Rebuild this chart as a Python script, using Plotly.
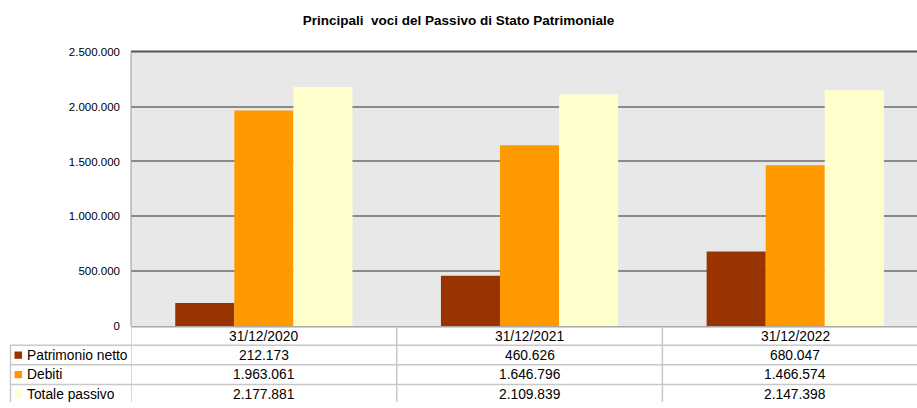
import plotly.graph_objects as go

W, H = 917, 408

categories = ["31/12/2020", "31/12/2021", "31/12/2022"]
series_names = ["Patrimonio netto", "Debiti", "Totale passivo"]
patrimonio_netto = [212173, 460626, 680047]
debiti = [1963061, 1646796, 1466574]
totale_passivo = [2177881, 2109839, 2147398]
series_values = [patrimonio_netto, debiti, totale_passivo]
colors = ["#993300", "#FF9900", "#FFFFCC"]
y_ticks = [0, 500000, 1000000, 1500000, 2000000, 2500000]
title = "Principali  voci del Passivo di Stato Patrimoniale"

FONT = "Liberation Sans, Arial, sans-serif"
TABLE_FS = 13.8

def px(x):
    return x / W

def py(y):
    return 1 - y / H

def it(n):
    return f"{n:,}".replace(",", ".")

fig = go.Figure()
xs = list(range(len(categories)))
for name, vals, c in zip(series_names, series_values, colors):
    fig.add_trace(go.Bar(x=xs, y=vals, name=name, marker=dict(color=c, line=dict(width=0))))

x_left, x_zero_y, x_top_y = 131, 330, 47
cat_w = 265.7
visible_units = (W - x_left) / cat_w

fig.update_layout(
    width=W, height=H, autosize=False,
    margin=dict(l=0, r=0, t=0, b=0),
    paper_bgcolor="white",
    plot_bgcolor="#E8E8E8",
    barmode="group",
    bargap=0.333,
    bargroupgap=0,
    showlegend=False,
    separators=",.",
    font=dict(family=FONT, size=12, color="#000"),
    title=dict(text="<b>" + title + "</b>", x=0.5, xanchor="center", y=py(20), yanchor="middle",
               font=dict(family=FONT, size=13.5, color="#000")),
    xaxis=dict(domain=[px(x_left), 1], range=[-0.5, -0.5 + visible_units],
               showticklabels=False, showgrid=False, zeroline=False, showline=False, fixedrange=True),
    yaxis=dict(domain=[py(x_zero_y), py(x_top_y)], range=[0, 2500000],
               tickvals=y_ticks, ticktext=[it(v) for v in y_ticks],
               tickfont=dict(family=FONT, size=11.5, color="#000"),
               showgrid=True, gridcolor="#8A8A8A", gridwidth=2,
               zeroline=False, showline=False, ticks="", ticklabelstandoff=10),
)

shapes = []
shapes.append(dict(type="line", xref="paper", yref="paper", x0=px(x_left), x1=1, y0=py(x_top_y), y1=py(x_top_y),
                   line=dict(color="#555555", width=2)))
shapes.append(dict(type="line", xref="paper", yref="paper", x0=px(x_left), x1=px(x_left), y0=py(x_zero_y), y1=py(x_top_y),
                   line=dict(color="#9A9A9A", width=1)))
shapes.append(dict(type="line", xref="paper", yref="paper", x0=px(x_left), x1=1, y0=py(330.5), y1=py(330.5),
                   line=dict(color="#A8A8A8", width=1.5)))
for yy in [349.5, 369.5, 390]:
    shapes.append(dict(type="line", xref="paper", yref="paper", x0=px(10), x1=1, y0=py(yy), y1=py(yy),
                       line=dict(color="#C8C8C8", width=1.5)))
shapes.append(dict(type="line", xref="paper", yref="paper", x0=px(10.5), x1=px(10.5), y0=py(349.5), y1=0,
                   line=dict(color="#C8C8C8", width=1.5)))
for b in [-0.5, 0.5, 1.5]:
    shapes.append(dict(type="line", xref="x", yref="paper", x0=b, x1=b, y0=py(330), y1=0,
                       line=dict(color="#C8C8C8", width=1.5)))
row_y = [360, 380, 400]
for c, yy in zip(colors, row_y):
    shapes.append(dict(type="rect", xref="paper", yref="paper", x0=px(14.5), x1=px(22), y0=py(yy + 3.5), y1=py(yy - 4),
                       fillcolor=c, line=dict(width=0)))

annotations = []
for i, cat in enumerate(categories):
    annotations.append(dict(x=i, y=py(340), xref="x", yref="paper", text=cat, showarrow=False,
                            xanchor="center", yanchor="middle", font=dict(family=FONT, size=TABLE_FS, color="#000")))
for name, vals, yy in zip(series_names, series_values, row_y):
    annotations.append(dict(x=px(25), y=py(yy), xref="paper", yref="paper", text=name, showarrow=False,
                            xanchor="left", yanchor="middle", font=dict(family=FONT, size=TABLE_FS, color="#000")))
    for i, v in enumerate(vals):
        annotations.append(dict(x=i, y=py(yy), xref="x", yref="paper", text=it(v), showarrow=False,
                                xanchor="center", yanchor="middle", font=dict(family=FONT, size=TABLE_FS, color="#000")))

fig.update_layout(shapes=shapes, annotations=annotations)
fig.write_html("out.html", config={"responsive": False, "displayModeBar": False},
               post_script="document.body.style.margin='0';document.body.style.overflow='hidden';")
